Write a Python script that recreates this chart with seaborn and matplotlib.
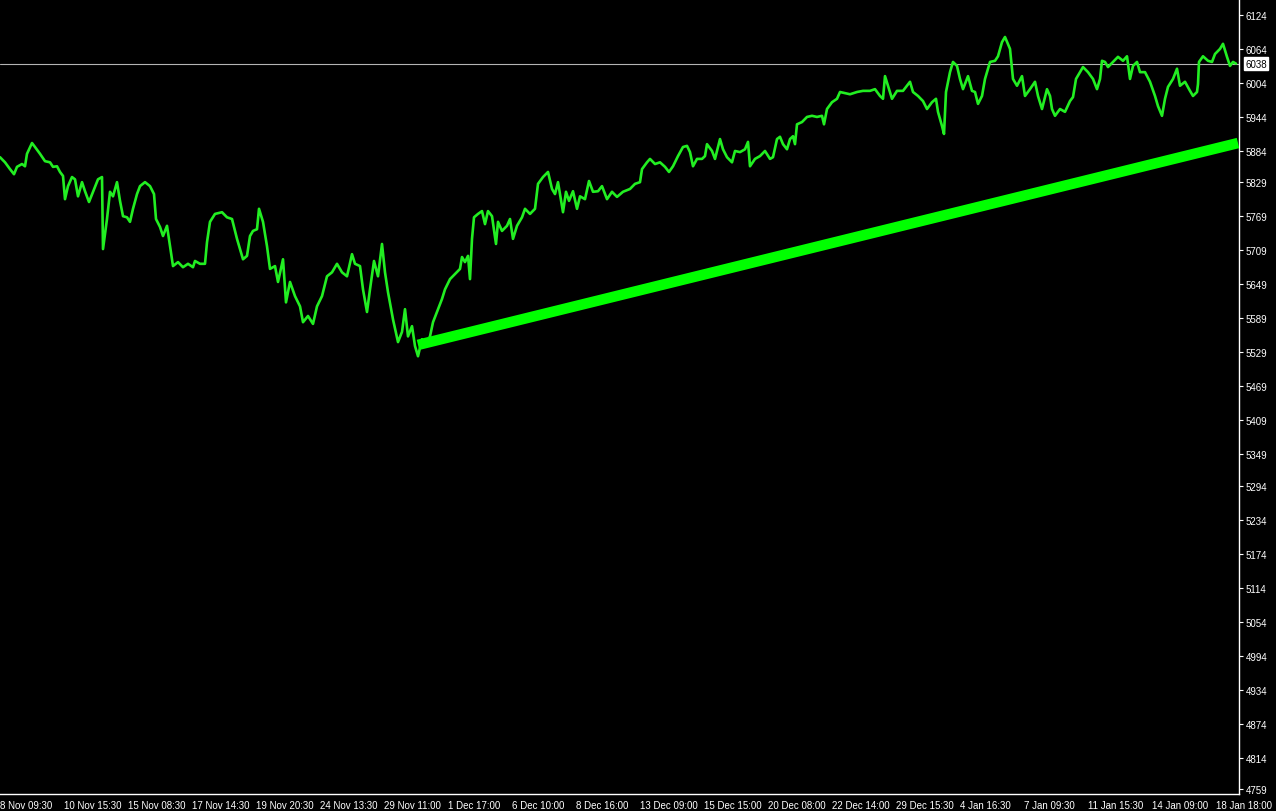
import matplotlib
matplotlib.use('Agg')
import matplotlib.pyplot as plt
import matplotlib.transforms as mtransforms
import seaborn as sns
import pandas as pd

sns.set_style("dark", {"axes.facecolor": "black", "figure.facecolor": "black"})
plt.rcParams['font.family'] = ['Liberation Sans', 'DejaVu Sans']

# ── 价格数据（按K线序号） ──
bars = [0, 5, 10, 14, 17, 22, 25, 27, 32, 35, 40, 45, 50, 53, 57, 60, 63, 65, 68, 72,
        75, 78, 82, 85, 89, 93, 98, 102, 103, 107, 110, 113, 117, 120, 123, 127, 130, 133, 137, 140,
        145, 150, 154, 156, 160, 163, 167, 170, 173, 178, 183, 188, 193,
        195, 200, 205, 207, 210, 215, 222, 227, 232, 237, 240, 243, 247, 250, 253, 257, 259, 263,
        267, 270, 275, 278, 283, 286, 290, 295, 300, 303, 308, 313, 317, 322, 327, 332, 337, 342,
        347, 352, 355, 360, 363, 367, 370, 374, 378, 382, 385, 388, 393, 398, 402, 405, 408, 412, 415,
        418, 422, 426, 430, 433, 438, 442, 445, 450, 455, 460, 462, 465, 468, 470, 472, 474, 478,
        482, 485, 488, 492, 496, 498, 502, 507, 510, 513, 517, 522, 525, 530, 535, 538, 543, 548,
        552, 555, 558, 563, 566, 569, 573, 577, 580, 585, 589, 593, 598, 602, 607, 612, 617, 623, 630,
        635, 640, 642, 647, 650, 655, 660, 665, 669, 673, 678, 683, 687, 690, 693, 697, 702, 705,
        707, 712, 715, 720, 723, 727, 732, 735, 740, 745, 748, 750, 755, 760, 765, 770, 773, 777,
        780, 783, 787, 790, 793, 795, 797, 802, 807, 812, 817, 822, 824, 827, 832, 837, 840,
        845, 850, 857, 863, 870, 875, 880, 883, 885, 888, 892, 897, 903, 910, 913, 918, 923, 927,
        932, 936, 938, 942, 944, 946, 950, 953, 957, 960, 963, 968, 972, 975, 978, 982, 985, 990,
        995, 998, 1002, 1005, 1010, 1013, 1017, 1022, 1025, 1030, 1035, 1038, 1042, 1047, 1050,
        1052, 1055, 1060, 1065, 1070, 1073, 1076, 1080, 1083, 1088, 1093, 1097, 1100, 1102, 1105,
        1108, 1113, 1118, 1123, 1127, 1130, 1133, 1137, 1140, 1145, 1150, 1155, 1158, 1162, 1165,
        1168, 1173, 1177, 1180, 1185, 1190, 1193, 1197, 1198, 1199, 1203, 1208, 1212, 1215, 1220,
        1223, 1227, 1230, 1233, 1236]

close = [5873, 5864, 5852, 5843, 5856, 5861, 5857, 5879, 5898, 5891, 5879, 5866, 5864, 5856, 5857, 5847, 5840, 5799, 5822, 5838,
         5834, 5804, 5829, 5813, 5794, 5812, 5834, 5838, 5711, 5764, 5812, 5804, 5829, 5796, 5769, 5767, 5759, 5782, 5808, 5822,
         5829, 5822, 5808, 5764, 5750, 5734, 5752, 5716, 5681, 5688, 5679, 5685, 5679,
         5690, 5685, 5685, 5723, 5759, 5773, 5776, 5767, 5764, 5729, 5711, 5693, 5699, 5734, 5743, 5746, 5782, 5759,
         5716, 5676, 5681, 5653, 5693, 5617, 5653, 5628, 5610, 5582, 5593, 5579, 5610, 5628, 5663, 5670, 5685, 5670,
         5663, 5702, 5685, 5681, 5640, 5600, 5640, 5690, 5663, 5720, 5670, 5635, 5587, 5547, 5565, 5605, 5557, 5575, 5540,
         5522, 5552, 5543, 5557, 5582, 5605, 5623, 5640, 5658, 5667, 5676, 5697, 5688, 5699, 5658, 5729, 5767, 5773,
         5778, 5755, 5778, 5769, 5720, 5759, 5743, 5752, 5764, 5729, 5752, 5767, 5782, 5773, 5782, 5826, 5838, 5847,
         5817, 5808, 5829, 5776, 5812, 5796, 5813, 5782, 5804, 5799, 5831, 5812, 5813, 5822, 5799, 5812, 5803, 5812, 5817,
         5826, 5829, 5852, 5864, 5870, 5861, 5864, 5856, 5847, 5857, 5875, 5891, 5893, 5882, 5857, 5870, 5870, 5875,
         5896, 5884, 5870, 5905, 5887, 5873, 5864, 5884, 5882, 5887, 5900, 5857, 5870, 5875, 5884, 5870, 5873, 5905,
         5909, 5896, 5887, 5905, 5910, 5896, 5931, 5935, 5944, 5946, 5944, 5946, 5931, 5958, 5970, 5976, 5988,
         5986, 5984, 5988, 5990, 5990, 5993, 5981, 5976, 6016, 5999, 5976, 5990, 5990, 6006, 5988, 5981, 5972, 5958,
         5970, 5976, 5953, 5928, 5914, 5988, 6023, 6041, 6034, 6011, 5993, 6016, 5990, 5988, 5967, 5981, 6011, 6041,
         6043, 6051, 6076, 6085, 6064, 6011, 5999, 6016, 5981, 5993, 6006, 5981, 5958, 5993, 5981,
         5958, 5946, 5958, 5953, 5972, 5979, 6011, 6023, 6032, 6023, 6011, 5993, 6011, 6043, 6041,
         6032, 6041, 6050, 6043, 6051, 6011, 6034, 6041, 6023, 6023, 6006, 5981, 5963, 5946, 5976,
         5997, 6011, 6029, 5999, 6006, 5990, 5981, 5988, 6002, 6041, 6051, 6043, 6041, 6055, 6064,
         6073, 6050, 6034, 6041, 6038]

# 趋势线两端
trend_bars = [418, 1238]
trend_price = [5542, 5898]
last_price = 6038

# 坐标轴刻度
price_ticks = [6124, 6064, 6004, 5944, 5884, 5829, 5769, 5709, 5649, 5589, 5529, 5469,
               5409, 5349, 5294, 5234, 5174, 5114, 5054, 4994, 4934, 4874, 4814, 4759]
time_tick_bars = [2, 66, 130, 194, 258, 322, 386, 450, 514, 578, 642, 706, 770, 834,
                  898, 962, 1026, 1090, 1154, 1218]
time_labels = ['8 Nov 09:30', '10 Nov 15:30', '15 Nov 08:30', '17 Nov 14:30', '19 Nov 20:30',
               '24 Nov 13:30', '29 Nov 11:00', '1 Dec 17:00', '6 Dec 10:00', '8 Dec 16:00',
               '13 Dec 09:00', '15 Dec 15:00', '20 Dec 08:00', '22 Dec 14:00', '29 Dec 15:30',
               '4 Jan 16:30', '7 Jan 09:30', '11 Jan 15:30', '14 Jan 09:00', '18 Jan 18:00']

df = pd.DataFrame({'bar': bars, 'close': close})
trend = pd.DataFrame({'bar': trend_bars, 'price': trend_price})

fig = plt.figure(figsize=(12.76, 8.12), dpi=100, facecolor='black')
ax = fig.add_axes([0, 17 / 812, 1239 / 1276, 795 / 812])
ax.set_facecolor('black')

ax.axhline(last_price, color='#b4b4b4', linewidth=0.8, zorder=1)
sns.lineplot(data=df, x='bar', y='close', ax=ax, color='#22ee22', linewidth=1.9,
             estimator=None, sort=False, zorder=3)
sns.lineplot(data=trend, x='bar', y='price', ax=ax, color='#00ff00', linewidth=7.6,
             estimator=None, sort=False, zorder=4, solid_capstyle='butt')

ax.set_xlim(0, 1239)
ax.set_ylim(4750, 6152)
ax.set_xlabel('')
ax.set_ylabel('')
ax.grid(False)

for side in ['top', 'left']:
    ax.spines[side].set_visible(False)
for side in ['right', 'bottom']:
    ax.spines[side].set_visible(True)
    ax.spines[side].set_color('white')
    ax.spines[side].set_linewidth(1)

ax.yaxis.tick_right()
ax.set_yticks(price_ticks)
ax.set_yticklabels([str(p) for p in price_ticks])
ax.tick_params(axis='y', colors='white', labelcolor='white', labelsize=7,
               length=3, width=0.8, direction='out', pad=2, left=False, right=True)

ax.set_xticks(time_tick_bars)
ax.set_xticklabels(time_labels, ha='left')
ax.tick_params(axis='x', colors='white', labelcolor='white', labelsize=7,
               length=3, width=0.8, direction='out', pad=1)
offset = mtransforms.ScaledTranslation(-1.5 / 72, 0, fig.dpi_scale_trans)
for lbl in ax.get_xticklabels():
    lbl.set_transform(lbl.get_transform() + offset)

# 当前价格标签
trans = mtransforms.blended_transform_factory(ax.transAxes, ax.transData)
ax.text(1.005, last_price, str(last_price), transform=trans, fontsize=7, color='black',
        va='center', ha='left', clip_on=False,
        bbox=dict(boxstyle='square,pad=0.15', facecolor='white', edgecolor='white'))

fig.savefig('out.png', dpi=100, facecolor='black')
plt.close()
